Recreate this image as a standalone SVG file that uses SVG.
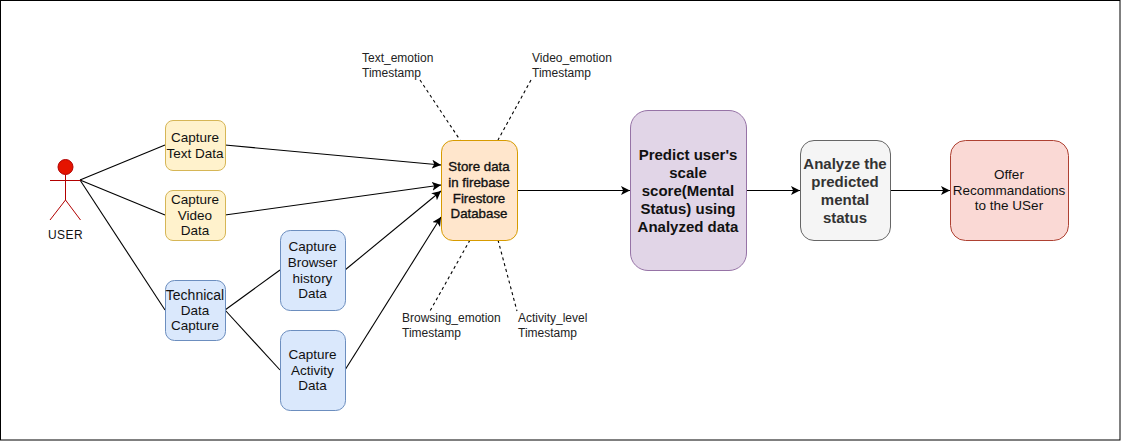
<svg xmlns="http://www.w3.org/2000/svg" width="1124" height="442" viewBox="0 0 1124 442">
<style>
text{font-family:"Liberation Sans",Arial,sans-serif;font-size:13.5px;fill:#111;text-anchor:middle}
.note{font-size:12px;text-anchor:start;fill:#222}
.b{font-weight:bold}
.s{font-size:13.3px;stroke:#111;stroke-width:.35px}
.l{font-size:15px}
.g{fill:#333}
.c{fill:none;stroke:#000;stroke-width:1.1}
.a{marker-end:url(#arr)}
.d{stroke-dasharray:3 3}
.y{fill:#fff2cc;stroke:#d6b656}
.bl{fill:#dae8fc;stroke:#6c8ebf}
</style>
<defs><marker id="arr" markerUnits="userSpaceOnUse" markerWidth="11" markerHeight="10" refX="9" refY="4.500" orient="auto"><path d="M0 0L9 4.500L0 9L2.200 4.500Z" fill="#000"/></marker></defs>
<rect width="1124" height="442" fill="#fff"/>
<rect id="frame" x="0.5" y="0.5" width="1119.5" height="439.5" fill="none" stroke="#000"/>
<g id="connectors">
<path class="c" d="M80 180L165 145"/>
<path class="c" d="M80 180L165 215"/>
<path class="c" d="M80 180L165 310"/>
<path class="c" d="M225 310L280 270"/>
<path class="c" d="M225 310L280 370"/>
<path class="c a" d="M225 145L441 165"/>
<path class="c a" d="M225 215L441 185"/>
<path class="c a" d="M345 270L441 191"/>
<path class="c a" d="M345 370L441 217"/>
<path class="c a" d="M517 190.500L630 190.500"/>
<path class="c a" d="M747 190.500L800 190.500"/>
<path class="c a" d="M890 190.500L950 190.500"/>
<path class="c d" d="M420 80L460 140"/>
<path class="c d" d="M531 80L498 140"/>
<path class="c d" d="M470 240L430 311"/>
<path class="c d" d="M498 240L517 311"/>
</g>
<g id="user" fill="none" stroke="#b20000">
<circle cx="65.5" cy="167" r="7.5" fill="#e51400"/>
<path d="M65.500 174.500V200M50 180.500H80.500M50 220L65.500 200L80.500 220"/>
<text x="65.500" y="239" style="stroke:none;font-size:12px;letter-spacing:.4px">USER</text>
</g>
<g id="capture-text"><rect class="y" x="165.500" y="120.500" width="60" height="50" rx="7.500"/><text x="195" y="142">Capture</text><text x="195" y="158">Text Data</text></g>
<g id="capture-video"><rect class="y" x="165.500" y="190.500" width="60" height="50" rx="7.500"/><text x="195" y="204">Capture</text><text x="195" y="220">Video</text><text x="195" y="235">Data</text></g>
<g id="technical"><rect class="bl" x="165.500" y="280.500" width="60" height="60" rx="9"/><text x="195" y="300" style="font-size:14px">Technical</text><text x="195" y="315">Data</text><text x="195" y="330">Capture</text></g>
<g id="capture-browser"><rect class="bl" x="280.500" y="230.500" width="65" height="80" rx="9.750"/><text x="312.500" y="251">Capture</text><text x="312.500" y="267">Browser</text><text x="312.500" y="283">history</text><text x="312.500" y="298">Data</text></g>
<g id="capture-activity"><rect class="bl" x="280.500" y="330.500" width="65" height="80" rx="9.750"/><text x="312.500" y="359">Capture</text><text x="312.500" y="375">Activity</text><text x="312.500" y="390">Data</text></g>
<g id="store"><rect x="441.500" y="140.500" width="76" height="100" rx="11.400" fill="#ffe6cc" stroke="#d79b00"/><text class="s" x="479" y="171">Store data</text><text class="s" x="479" y="187">in firebase</text><text class="s" x="479" y="203">Firestore</text><text class="s" x="479" y="218">Database</text></g>
<g id="predict"><rect x="630.500" y="110.500" width="116" height="160" rx="17.500" fill="#e1d5e7" stroke="#9673a6"/><text class="b l" x="688" y="160">Predict user's</text><text class="b l" x="688" y="178">scale</text><text class="b l" x="688" y="196">score(Mental</text><text class="b l" x="688" y="214">Status) using</text><text class="b l" x="688" y="232">Analyzed data</text></g>
<g id="analyze"><rect x="800.500" y="140.500" width="90" height="100" rx="13.500" fill="#f5f5f5" stroke="#666"/><text class="b l g" x="845" y="169">Analyze the</text><text class="b l g" x="845" y="187">predicted</text><text class="b l g" x="845" y="205">mental</text><text class="b l g" x="845" y="223">status</text></g>
<g id="offer"><rect x="950.500" y="140.500" width="118" height="100" rx="15" fill="#fad9d5" stroke="#ae4132"/><text x="1009" y="179">Offer</text><text x="1009" y="195">Recommandations</text><text x="1009" y="210">to the USer</text></g>
<g id="notes">
<text class="note" x="362" y="62">Text_emotion</text><text class="note" x="362" y="77">Timestamp</text>
<text class="note" x="532" y="62">Video_emotion</text><text class="note" x="532" y="77">Timestamp</text>
<text class="note" x="402" y="322">Browsing_emotion</text><text class="note" x="402" y="337">Timestamp</text>
<text class="note" x="518" y="322">Activity_level</text><text class="note" x="518" y="337">Timestamp</text>
</g>
</svg>
